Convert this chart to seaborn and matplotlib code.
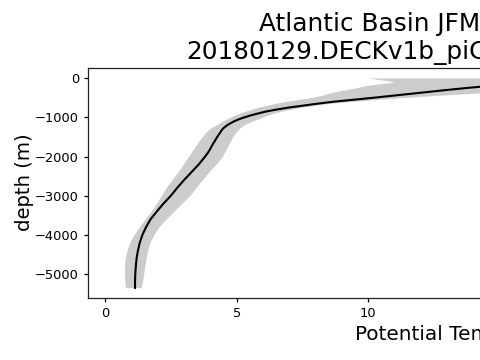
import numpy as np
import pandas as pd
import matplotlib
matplotlib.use("Agg")
import matplotlib.pyplot as plt
import seaborn as sns

# ---- data ----
depth = [-5, -25, -50, -80, -110, -150, -200, -250, -300, -350, -400, -450,
         -500, -550, -600, -650, -700, -750, -800, -850, -900, -950, -1000,
         -1050, -1100, -1150, -1200, -1250, -1300, -1400, -1500, -1600, -1700,
         -1800, -1900, -2000, -2100, -2200, -2300, -2400, -2500, -2600, -2800,
         -3000, -3200, -3400, -3600, -3800, -4000, -4200, -4400, -4600, -4800,
         -5000, -5200, -5360]
temp_mean = [18.8, 18.3, 17.6, 16.9, 16.2, 15.4, 14.5, 13.7, 12.95, 12.25, 11.55, 10.85,
             10.15, 9.4, 8.65, 8.05, 7.5, 6.95, 6.5, 6.1, 5.8, 5.52, 5.28,
             5.07, 4.9, 4.76, 4.64, 4.54, 4.46, 4.36, 4.26, 4.17, 4.08,
             4.0, 3.91, 3.8, 3.68, 3.56, 3.42, 3.28, 3.14, 3.0, 2.74,
             2.5, 2.22, 1.97, 1.73, 1.56, 1.42, 1.32, 1.25, 1.2, 1.17,
             1.15, 1.14, 1.14]
temp_lower = [10.0, 10.2, 10.5, 10.8, 11.0, 10.5, 9.9, 9.6, 9.2, 8.8, 8.5, 8.25,
              7.9, 7.4, 6.9, 6.5, 6.2, 5.85, 5.6, 5.38, 5.15, 4.96, 4.8,
              4.65, 4.5, 4.37, 4.25, 4.12, 4.0, 3.84, 3.72, 3.6, 3.5,
              3.4, 3.3, 3.2, 3.1, 3.0, 2.9, 2.8, 2.68, 2.57, 2.35,
              2.16, 1.98, 1.78, 1.56, 1.33, 1.13, 0.96, 0.86, 0.79, 0.76,
              0.76, 0.77, 0.80]
temp_upper = [27.6, 26.5, 25.0, 23.5, 22.0, 20.5, 18.8, 17.5, 16.2, 15.0, 13.9, 12.6,
              11.45, 10.4, 9.45, 8.6, 8.0, 7.5, 7.1, 6.75, 6.45, 6.2, 6.02,
              5.85, 5.65, 5.45, 5.3, 5.2, 5.12, 4.98, 4.87, 4.8, 4.72,
              4.64, 4.56, 4.48, 4.38, 4.25, 4.1, 3.97, 3.85, 3.72, 3.48,
              3.25, 2.95, 2.65, 2.35, 2.08, 1.88, 1.73, 1.64, 1.58, 1.53,
              1.49, 1.44, 1.39]

title_line1 = "Atlantic Basin JFM, years 0001-0010"
title_line2 = "20180129.DECKv1b_piControl.ne30_oEC.edison"
xlabel = "Potential Temperature (°C)"
ylabel = "depth (m)"

df = pd.DataFrame({"depth": depth, "temp": temp_mean})

sns.set_style("ticks")
plt.rcParams["font.family"] = ["DejaVu Sans"]
plt.rcParams["text.color"] = "black"
plt.rcParams["axes.labelcolor"] = "black"
plt.rcParams["xtick.color"] = "black"
plt.rcParams["ytick.color"] = "black"

W, H = 480, 360
fig = plt.figure(figsize=(W / 100, H / 100), dpi=100)
left_px, right_px, top_px, bottom_px = 88, 878, 67.5, 297.7
ax = fig.add_axes([left_px / W, 1 - bottom_px / H,
                   (right_px - left_px) / W, (bottom_px - top_px) / H])

ax.fill_betweenx(depth, temp_lower, temp_upper, color="#cccccc", linewidth=0)
sns.lineplot(data=df, x="temp", y="depth", orient="y", sort=False,
             color="black", linewidth=1.5, ax=ax, estimator=None)

ax.set_xlim(-0.646, 29.36)
ax.set_ylim(-5604, 276)
ax.set_xticks([0, 5, 10, 15, 20, 25])
ax.set_yticks([-5000, -4000, -3000, -2000, -1000, 0])

ax.set_title(title_line1 + "\n" + title_line2, fontsize=17.8, pad=6, color="black")
ax.set_xlabel(xlabel, fontsize=14.4, labelpad=3.5)
ax.xaxis.label.set_x(0.508)
ax.set_ylabel(ylabel, fontsize=14.1, labelpad=1)
ax.tick_params(labelsize=9.4, length=3, width=0.9, colors="black")
for s in ax.spines.values():
    s.set_linewidth(0.9)
    s.set_color("#222222")
    s.set_visible(True)

fig.savefig("out.png", dpi=100)
